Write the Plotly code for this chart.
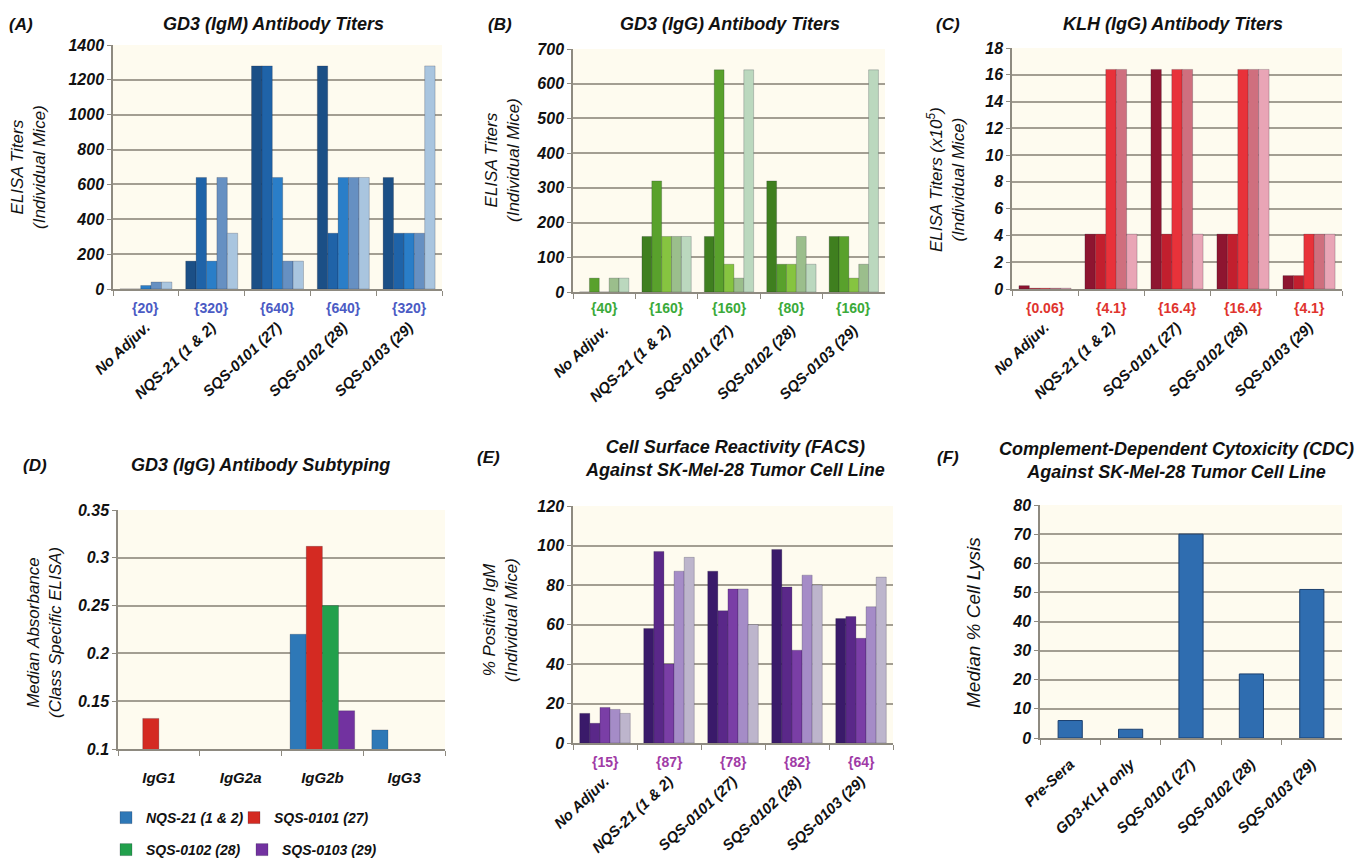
import plotly.graph_objects as go

W, H = 1356, 864

# ---------------- data ----------------
groups = ["No Adjuv.", "NQS-21 (1 & 2)", "SQS-0101 (27)", "SQS-0102 (28)", "SQS-0103 (29)"]

# Panel A: GD3 (IgM) titers, 5 mice per group
igm_m1 = [0, 160, 1280, 1280, 640]
igm_m2 = [0, 640, 1280, 320, 320]
igm_m3 = [20, 160, 640, 640, 320]
igm_m4 = [40, 640, 160, 640, 320]
igm_m5 = [40, 320, 160, 640, 1280]
igm_median = ["{20}", "{320}", "{640}", "{640}", "{320}"]

# Panel B: GD3 (IgG) titers
igg_m1 = [0, 160, 160, 320, 160]
igg_m2 = [40, 320, 640, 80, 160]
igg_m3 = [0, 160, 80, 80, 40]
igg_m4 = [40, 160, 40, 160, 80]
igg_m5 = [40, 160, 640, 80, 640]
igg_median = ["{40}", "{160}", "{160}", "{80}", "{160}"]

# Panel C: KLH (IgG) titers (x10^5)
klh_m1 = [0.25, 4.1, 16.4, 4.1, 1.0]
klh_m2 = [0.06, 4.1, 4.1, 4.1, 1.0]
klh_m3 = [0.06, 16.4, 16.4, 16.4, 4.1]
klh_m4 = [0.06, 16.4, 16.4, 16.4, 4.1]
klh_m5 = [0.06, 4.1, 4.1, 16.4, 4.1]
klh_median = ["{0.06}", "{4.1}", "{16.4}", "{16.4}", "{4.1}"]

# Panel D: subtyping
subclasses = ["IgG1", "IgG2a", "IgG2b", "IgG3"]
sub_nqs21 = [None, None, 0.22, 0.12]
sub_sqs0101 = [0.132, None, 0.312, None]
sub_sqs0102 = [None, None, 0.25, None]
sub_sqs0103 = [None, None, 0.14, None]

# Panel E: FACS % positive IgM
facs_m1 = [15, 58, 87, 98, 63]
facs_m2 = [10, 97, 67, 79, 64]
facs_m3 = [18, 40, 78, 47, 53]
facs_m4 = [17, 87, 78, 85, 69]
facs_m5 = [15, 94, 60, 80, 84]
facs_median = ["{15}", "{87}", "{78}", "{82}", "{64}"]

# Panel F: CDC
cdc_groups = ["Pre-Sera", "GD3-KLH only", "SQS-0101 (27)", "SQS-0102 (28)", "SQS-0103 (29)"]
cdc_values = [6, 3, 70, 22, 51]

# ---------------- styling ----------------
FONT = "Liberation Sans"
def px(x):
    return x / W
def py(y):
    return 1 - y / H

A_colors = ['#1B4F86', '#1F63A8', '#2A7EC8', '#6690C2', '#A9C5DF']
B_colors = ['#3F7F1F', '#59A12C', '#86C440', '#9BBE8C', '#BBD8BE']
C_colors = ['#8E1530', '#C21F2E', '#E8323A', '#CF6F7E', '#E9A5B6']
E_colors = ['#3A1A6A', '#5A2889', '#7A3EA6', '#A58CC7', '#BDB5CC']
D_colors = ['#2E78B7', '#D42A22', '#22A04C', '#7232A0']
F_color = '#2F6DB0'

PLOT_BG = '#FEFBEF'
GRID = '#A39E92'

fig = go.Figure()

def add_mice(series, colors, xa, ya, cats):
    for vals, col in zip(series, colors):
        fig.add_trace(go.Bar(x=cats, y=vals, marker=dict(color=col, line=dict(color='rgba(20,20,40,0.35)', width=0.6)),
                             xaxis=xa, yaxis=ya, showlegend=False))

add_mice([igm_m1, igm_m2, igm_m3, igm_m4, igm_m5], A_colors, 'x', 'y', groups)
add_mice([igg_m1, igg_m2, igg_m3, igg_m4, igg_m5], B_colors, 'x2', 'y2', groups)
add_mice([klh_m1, klh_m2, klh_m3, klh_m4, klh_m5], C_colors, 'x3', 'y3', groups)

sub_series = [("NQS-21 (1 & 2)", sub_nqs21, 'legend'), ("SQS-0101 (27)", sub_sqs0101, 'legend2'),
              ("SQS-0102 (28)", sub_sqs0102, 'legend3'), ("SQS-0103 (29)", sub_sqs0103, 'legend4')]
for (name, vals, lg), col in zip(sub_series, D_colors):
    fig.add_trace(go.Bar(x=subclasses, y=vals, name=name, marker=dict(color=col, line=dict(color='rgba(20,20,40,0.35)', width=0.6)),
                         xaxis='x4', yaxis='y4', showlegend=True, legend=lg))

add_mice([facs_m1, facs_m2, facs_m3, facs_m4, facs_m5], E_colors, 'x5', 'y5', groups)

fig.add_trace(go.Bar(x=cdc_groups, y=cdc_values, width=0.4, marker=dict(color=F_color, line=dict(color='#1B3F6E', width=1)),
                     xaxis='x6', yaxis='y6', showlegend=False))

tickfont = dict(family=FONT, size=15, weight='bold', style='italic', color='#111111')
ytickfont = dict(family=FONT, size=16, weight='bold', style='italic', color='#111111')

def xaxis(dom, anchor, angle, standoff):
    return dict(domain=dom, anchor=anchor, type='category', tickangle=angle, tickfont=tickfont, automargin=False,
                showline=True, linecolor='#8E8A80', linewidth=1.5, ticks='outside', tickson='boundaries',
                ticklen=5, tickcolor='#8E8A80', ticklabelstandoff=standoff, showgrid=False, fixedrange=True)

def yaxis(dom, anchor, rng, dtick):
    return dict(domain=dom, anchor=anchor, range=rng, dtick=dtick, tickfont=ytickfont, automargin=False,
                showline=True, linecolor='#8E8A80', linewidth=1.5, ticks='outside', ticklen=4, tickcolor='#8E8A80',
                showgrid=True, gridcolor=GRID, gridwidth=1.5, zeroline=False, fixedrange=True)

legfont = dict(family=FONT, size=14, weight='bold', style='italic', color='#111111')
def leg(x, y):
    return dict(orientation='h', x=px(x), y=py(y), xanchor='left', yanchor='middle', font=legfont,
                itemwidth=30, bgcolor='rgba(0,0,0,0)', borderwidth=0)

layout = dict(
    template='none',
    width=W, height=H, margin=dict(l=0, r=0, t=0, b=0, autoexpand=False),
    paper_bgcolor='white', plot_bgcolor=PLOT_BG,
    barmode='group', bargap=0.21, bargroupgap=0,
    xaxis=xaxis([px(113), px(442)], 'y', -43, 22),
    yaxis=yaxis([py(289), py(45)], 'x', [0, 1400], 200),
    xaxis2=xaxis([px(573), px(885)], 'y2', -43, 22),
    yaxis2=yaxis([py(292), py(49)], 'x2', [0, 700], 100),
    xaxis3=xaxis([px(1012), px(1342)], 'y3', -43, 22),
    yaxis3=yaxis([py(289), py(48)], 'x3', [0, 18], 2),
    xaxis4=xaxis([px(118), px(445)], 'y4', 0, 14),
    yaxis4=yaxis([py(749), py(510)], 'x4', [0.1, 0.35], 0.05),
    xaxis5=xaxis([px(573), px(893)], 'y5', -43, 22),
    yaxis5=yaxis([py(743), py(506)], 'x5', [0, 120], 20),
    xaxis6=xaxis([px(1040), px(1342)], 'y6', -43, 10),
    yaxis6=yaxis([py(738), py(505)], 'x6', [0, 80], 10),
    legend=leg(106, 818),
    legend2=leg(234, 818),
    legend3=leg(106, 850),
    legend4=leg(242, 850),
)
fig.update_layout(**layout)

ann = []
def text(x, y, t, size=16, bold=True, italic=True, color='#111111', angle=0, xanchor='center'):
    ann.append(dict(x=px(x), y=py(y), xref='paper', yref='paper', text=t, showarrow=False, textangle=angle,
                    xanchor=xanchor, yanchor='middle',
                    font=dict(family=FONT, size=size, weight='bold' if bold else 'normal',
                              style='italic' if italic else 'normal', color=color)))

# panel letters
for (x, y, t) in [(21, 24, "(A)"), (500, 24, "(B)"), (948, 24, "(C)"), (35, 465, "(D)"), (488, 457, "(E)"), (948, 457, "(F)")]:
    text(x, y, t, size=17)

# titles
text(273, 24, "GD3 (IgM) Antibody Titers", size=18)
text(730, 24, "GD3 (IgG) Antibody Titers", size=18)
text(1173, 24, "KLH (IgG) Antibody Titers", size=18)
text(260, 465, "GD3 (IgG) Antibody Subtyping", size=18)
text(735, 458, "Cell Surface Reactivity (FACS)<br>Against SK-Mel-28 Tumor Cell Line", size=18)
text(1176, 460, "Complement-Dependent Cytoxicity (CDC)<br>Against SK-Mel-28 Tumor Cell Line", size=18)

# y titles
text(29, 167, "ELISA Titers<br>(Individual Mice)", size=17, bold=False, angle=-90)
text(503, 160, "ELISA Titers<br>(Individual Mice)", size=17, bold=False, angle=-90)
text(946, 180, "ELISA Titers (x10<sup>5</sup>)<br>(Individual Mice)", size=17, bold=False, angle=-90)
text(44, 633, "Median Absorbance<br>(Class Specific ELISA)", size=17, bold=False, angle=-90)
text(500, 620, "% Positive IgM<br>(Individual Mice)", size=17, bold=False, angle=-90)
text(973, 623, "Median % Cell Lysis", size=19, bold=False, angle=-90)

# median labels
def medians(labels, xa, y, color):
    for g, lab in zip(groups, labels):
        ann.append(dict(x=g, y=py(y), xref=xa, yref='paper', text=lab, showarrow=False, yanchor='middle',
                        font=dict(family=FONT, size=14, weight='bold', color=color)))

medians(igm_median, 'x', 308, '#4B5BC4')
medians(igg_median, 'x2', 308, '#3BAA3A')
medians(klh_median, 'x3', 308, '#E0342E')
medians(facs_median, 'x5', 762, '#A03BA6')

fig.update_layout(annotations=ann)
fig.write_html("out.html", config={'displayModeBar': False},
               post_script="document.body.style.margin='0';document.body.style.overflow='hidden';")
